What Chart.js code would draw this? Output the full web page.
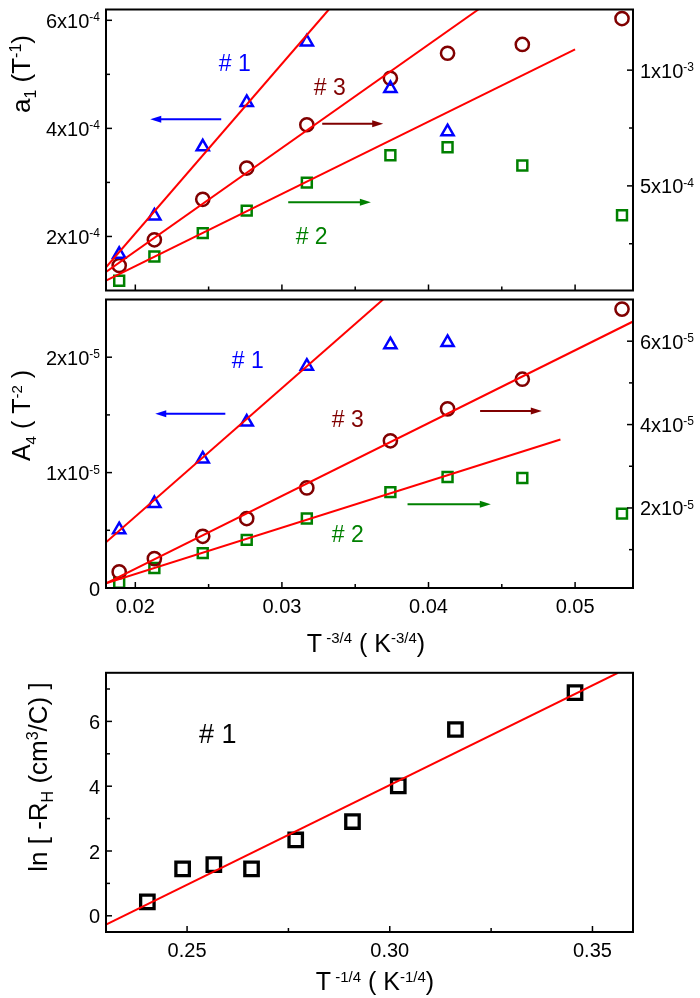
<!DOCTYPE html>
<html>
<head>
<meta charset="utf-8">
<script src="https://cdn.jsdelivr.net/npm/chart.js@4"></script>
<style>
  body { margin: 0; background: #fff; width: 700px; height: 998px; position: relative; overflow: hidden; }
  canvas { position: absolute; left: 0; }
</style>
</head>
<body>
<canvas id="a1Chart" width="700" height="300" style="top:0px"></canvas>
<canvas id="A4Chart" width="700" height="370" style="top:290px"></canvas>
<canvas id="rhChart" width="700" height="338" style="top:660px"></canvas>
<script>
// T^-3/4 values shared by the two upper panels
const T34 = [0.0189, 0.0213, 0.0246, 0.0276, 0.0317, 0.0374, 0.0413, 0.0464, 0.0532];

// a1 : sample #1 on left axis, #2 and #3 on right axis
const a1No1 = [1.67e-4, 2.38e-4, 3.66e-4, 4.48e-4, 5.60e-4, 4.74e-4, 3.94e-4];
const a1No3 = [1.56e-4, 2.67e-4, 4.42e-4, 5.77e-4, 7.64e-4, 9.65e-4, 10.73e-4, 11.11e-4, 12.23e-4];
const a1No2 = [0.90e-4, 1.95e-4, 2.96e-4, 3.93e-4, 5.14e-4, 6.32e-4, 6.67e-4, 5.88e-4, 3.73e-4];
const a1Fit1 = [[0.018, 1.43e-4], [0.0332, 6.2e-4]];
const a1Fit3 = [[0.018, 1.28e-4], [0.0434, 1.262e-3]];
const a1Fit2 = [[0.018, 0.904e-4], [0.0500, 1.09e-3]];

// A4 : sample #1 on left axis, #2 and #3 on right axis
const A4No1 = [5.05e-6, 7.32e-6, 1.118e-5, 1.438e-5, 1.922e-5, 2.108e-5, 2.128e-5];
const A4No3 = [0.466e-5, 0.784e-5, 1.32e-5, 1.746e-5, 2.481e-5, 3.611e-5, 4.377e-5, 5.088e-5, 6.77e-5];
const A4No2 = [0.206e-5, 0.561e-5, 0.917e-5, 1.234e-5, 1.746e-5, 2.379e-5, 2.741e-5, 2.718e-5, 1.865e-5];
const A4Fit1 = [[0.018, 3.96e-6], [0.0369, 2.5e-5]];
const A4Fit3 = [[0.018, 0.191e-5], [0.05395, 6.472e-5]];
const A4Fit2 = [[0.018, 0.19e-5], [0.0490, 3.642e-5]];

// ln(-RH) vs T^-1/4, sample #1
const T14 = [0.2402, 0.2489, 0.2566, 0.2659, 0.2768, 0.2908, 0.3021, 0.3162, 0.3457];
const lnRH = [0.43, 1.45, 1.58, 1.45, 2.34, 2.91, 4.01, 5.75, 6.89];
const lnRHFit = [[0.23, -0.27], [0.3563, 7.5]];

// tick values and labels
const T34Ticks = [0.02, 0.03, 0.04, 0.05];
const T34Labels = ['0.02', '0.03', '0.04', '0.05'];
const T34Minor = [0.025, 0.035, 0.045];
const a1LeftTicks = [2e-4, 4e-4, 6e-4];
const a1LeftLabels = ['2x10^{-4}', '4x10^{-4}', '6x10^{-4}'];
const a1LeftMinor = [3e-4, 5e-4];
const a1RightTicks = [5e-4, 1e-3];
const a1RightLabels = ['5x10^{-4}', '1x10^{-3}'];
const a1RightMinor = [2.5e-4, 7.5e-4];
const A4LeftTicks = [0, 1e-5, 2e-5];
const A4LeftLabels = ['0', '1x10^{-5}', '2x10^{-5}'];
const A4LeftMinor = [0.5e-5, 1.5e-5];
const A4RightTicks = [2e-5, 4e-5, 6e-5];
const A4RightLabels = ['2x10^{-5}', '4x10^{-5}', '6x10^{-5}'];
const A4RightMinor = [1e-5, 3e-5, 5e-5];
const T14Ticks = [0.25, 0.30, 0.35];
const T14Labels = ['0.25', '0.30', '0.35'];
const T14Minor = [0.275, 0.325];
const lnTicks = [0, 2, 4, 6];
const lnLabels = ['0', '2', '4', '6'];
const lnMinor = [1, 3, 5, 7];

const BLUE = '#0000ff', DARKRED = '#800000', GREEN = '#008000', RED = '#ff0000';
const FONT = 'Arial, "Liberation Sans", sans-serif';

// tiny markup: ^{..} superscript, _{..} subscript
function parseRich(str) {
  const out = [];
  const re = /([\^_])\{([^}]*)\}|([^\^_]+)/g;
  let m;
  while ((m = re.exec(str))) {
    if (m[3]) out.push({ t: m[3], k: '' });
    else out.push({ t: m[2], k: m[1] });
  }
  return out;
}

function richText(ctx, str, x, y, size, align, color) {
  const parts = parseRich(str);
  const fontOf = k => (k ? Math.round(size * 0.6) : size) + 'px ' + FONT;
  let w = 0;
  parts.forEach(p => { ctx.font = fontOf(p.k); p.w = ctx.measureText(p.t).width; w += p.w; });
  let cx = align === 'right' ? x - w : align === 'center' ? x - w / 2 : x;
  ctx.fillStyle = color || '#000';
  ctx.textAlign = 'left';
  ctx.textBaseline = 'alphabetic';
  parts.forEach(p => {
    ctx.font = fontOf(p.k);
    const dy = p.k === '^' ? -size * 0.33 : p.k === '_' ? size * 0.22 : 0;
    ctx.fillText(p.t, cx, y + dy);
    cx += p.w;
  });
}

function drawAxis(ctx, chart, ax) {
  const s = chart.scales[ax.scale];
  const a = chart.chartArea;
  ctx.strokeStyle = '#000';
  ctx.lineWidth = 1.5;
  const mark = (v, len) => {
    const p = s.getPixelForValue(v);
    ctx.beginPath();
    if (ax.side === 'left') { ctx.moveTo(a.left, p); ctx.lineTo(a.left + len, p); }
    else if (ax.side === 'right') { ctx.moveTo(a.right, p); ctx.lineTo(a.right - len, p); }
    else { ctx.moveTo(p, a.bottom); ctx.lineTo(p, a.bottom - len); }
    ctx.stroke();
  };
  ax.major.forEach(v => mark(v, 6));
  ax.minor.forEach(v => mark(v, 4));
  if (!ax.labels) return;
  ax.major.forEach((v, i) => {
    const p = s.getPixelForValue(v);
    if (ax.side === 'left') richText(ctx, ax.labels[i], a.left - 6, p + 7.5, 20, 'right');
    else if (ax.side === 'right') richText(ctx, ax.labels[i], a.right + 7, p + 7.5, 20, 'left');
    else richText(ctx, ax.labels[i], p, a.bottom + 24.5, 20, 'center');
  });
}

function drawArrow(ctx, x1, x2, y, color) {
  const dir = Math.sign(x2 - x1);
  ctx.strokeStyle = color;
  ctx.fillStyle = color;
  ctx.lineWidth = 2;
  ctx.beginPath();
  ctx.moveTo(x1, y);
  ctx.lineTo(x2 - dir * 8, y);
  ctx.stroke();
  ctx.beginPath();
  ctx.moveTo(x2, y);
  ctx.lineTo(x2 - dir * 11, y - 3.5);
  ctx.lineTo(x2 - dir * 11, y + 3.5);
  ctx.closePath();
  ctx.fill();
}

// frame, inward ticks, labels, titles and annotations
function decoPlugin(spec) {
  return {
    id: 'deco',
    afterDraw(chart) {
      const ctx = chart.ctx;
      const a = chart.chartArea;
      ctx.save();
      spec.axes.forEach(ax => drawAxis(ctx, chart, ax));
      ctx.strokeStyle = '#000';
      ctx.lineWidth = 2;
      ctx.strokeRect(a.left, a.top, a.right - a.left, a.bottom - a.top);
      const xs = chart.scales.x;
      (spec.notes || []).forEach(n => {
        const ys = chart.scales[n.axis];
        richText(ctx, n.text, xs.getPixelForValue(n.x), ys.getPixelForValue(n.y), n.size, 'center', n.color);
      });
      (spec.arrows || []).forEach(n => {
        const ys = chart.scales[n.axis];
        drawArrow(ctx, xs.getPixelForValue(n.x1), xs.getPixelForValue(n.x2), ys.getPixelForValue(n.y), n.color);
      });
      (spec.titles || []).forEach(t => {
        ctx.save();
        ctx.translate(t.x, t.y);
        if (t.rotate) ctx.rotate(-Math.PI / 2);
        richText(ctx, t.text, 0, 0, t.size, 'center', '#000');
        ctx.restore();
      });
      ctx.restore();
    }
  };
}

function markers(xs, ys, axis, style, color, r, bw) {
  return {
    data: ys.map((y, i) => ({ x: xs[i], y })),
    yAxisID: axis,
    showLine: false,
    pointStyle: style,
    pointRadius: r,
    pointBorderColor: color,
    pointBackgroundColor: 'rgba(0,0,0,0)',
    pointBorderWidth: bw || 2.5,
    clip: false
  };
}

function fitLine(pts, axis) {
  return {
    data: pts.map(p => ({ x: p[0], y: p[1] })),
    yAxisID: axis,
    showLine: true,
    borderColor: RED,
    borderWidth: 2,
    pointRadius: 0
  };
}

function panel(id, padding, scales, datasets, spec) {
  return new Chart(document.getElementById(id), {
    type: 'scatter',
    data: { datasets },
    options: {
      responsive: false,
      animation: false,
      devicePixelRatio: 1,
      events: [],
      layout: { padding },
      plugins: { legend: { display: false }, tooltip: { enabled: false } },
      scales
    },
    plugins: [decoPlugin(spec)]
  });
}

const x34 = { type: 'linear', display: false, min: 0.018, max: 0.05395 };

// top panel: a1
panel('a1Chart', { left: 106, right: 67, top: 4, bottom: 4 }, {
  x: x34,
  yL: { type: 'linear', display: false, position: 'left', min: 1e-4, max: 6.2e-4 },
  yR: { type: 'linear', display: false, position: 'right', min: 4.8e-5, max: 1.262e-3 }
}, [
  fitLine(a1Fit1, 'yL'),
  fitLine(a1Fit3, 'yR'),
  fitLine(a1Fit2, 'yR'),
  markers(T34, a1No1, 'yL', 'triangle', BLUE, 7),
  markers(T34, a1No3, 'yR', 'circle', DARKRED, 6.6),
  markers(T34, a1No2, 'yR', 'rect', GREEN, 7)
], {
  axes: [
    { scale: 'yL', side: 'left', major: a1LeftTicks, minor: a1LeftMinor, labels: a1LeftLabels },
    { scale: 'yR', side: 'right', major: a1RightTicks, minor: a1RightMinor, labels: a1RightLabels },
    { scale: 'x', side: 'bottom', major: T34Ticks, minor: T34Minor }
  ],
  notes: [
    { text: '# 1', x: 0.02678, y: 5.063e-4, axis: 'yL', size: 23, color: BLUE },
    { text: '# 3', x: 0.03326, y: 4.619e-4, axis: 'yL', size: 23, color: DARKRED },
    { text: '# 2', x: 0.03203, y: 1.852e-4, axis: 'yL', size: 23, color: GREEN }
  ],
  arrows: [
    { x1: 0.02586, x2: 0.02102, y: 4.169e-4, axis: 'yL', color: BLUE },
    { x1: 0.03275, x2: 0.03691, y: 4.085e-4, axis: 'yL', color: DARKRED },
    { x1: 0.03043, x2: 0.03607, y: 2.635e-4, axis: 'yL', color: GREEN }
  ],
  titles: [
    { text: 'a_{1} (T^{-1})', x: 30, y: 74, size: 26, rotate: true }
  ]
});

// middle panel: A4
panel('A4Chart', { left: 106, right: 67, top: 6, bottom: 72 }, {
  x: x34,
  yL: { type: 'linear', display: false, position: 'left', min: 0, max: 2.5e-5 },
  yR: { type: 'linear', display: false, position: 'right', min: 0.08e-5, max: 7e-5 }
}, [
  fitLine(A4Fit1, 'yL'),
  fitLine(A4Fit3, 'yR'),
  fitLine(A4Fit2, 'yR'),
  markers(T34, A4No1, 'yL', 'triangle', BLUE, 7),
  markers(T34, A4No3, 'yR', 'circle', DARKRED, 6.6),
  markers(T34, A4No2, 'yR', 'rect', GREEN, 7)
], {
  axes: [
    { scale: 'yL', side: 'left', major: A4LeftTicks, minor: A4LeftMinor, labels: A4LeftLabels },
    { scale: 'yR', side: 'right', major: A4RightTicks, minor: A4RightMinor, labels: A4RightLabels },
    { scale: 'x', side: 'bottom', major: T34Ticks, minor: T34Minor, labels: T34Labels }
  ],
  notes: [
    { text: '# 1', x: 0.02767, y: 1.909e-5, axis: 'yL', size: 23, color: BLUE },
    { text: '# 3', x: 0.03449, y: 1.396e-5, axis: 'yL', size: 23, color: DARKRED },
    { text: '# 2', x: 0.03449, y: 0.396e-5, axis: 'yL', size: 23, color: GREEN }
  ],
  arrows: [
    { x1: 0.02614, x2: 0.02136, y: 1.509e-5, axis: 'yL', color: BLUE },
    { x1: 0.04352, x2: 0.04773, y: 1.533e-5, axis: 'yL', color: DARKRED },
    { x1: 0.03857, x2: 0.04425, y: 0.725e-5, axis: 'yL', color: GREEN }
  ],
  titles: [
    { text: 'A_{4} ( T^{-2} )', x: 30, y: 125.5, size: 25, rotate: true },
    { text: 'T^{ -3/4} ( K^{-3/4})', x: 366, y: 361.7, size: 25 }
  ]
});

// bottom panel: ln(-RH)
panel('rhChart', { left: 106, right: 67, top: 8, bottom: 66 }, {
  x: { type: 'linear', display: false, min: 0.23, max: 0.36 },
  y: { type: 'linear', display: false, position: 'left', min: -0.5, max: 7.5 }
}, [
  fitLine(lnRHFit, 'y'),
  markers(T14, lnRH, 'y', 'rect', '#000', 9.5, 3.3)
], {
  axes: [
    { scale: 'y', side: 'left', major: lnTicks, minor: lnMinor, labels: lnLabels },
    { scale: 'x', side: 'bottom', major: T14Ticks, minor: T14Minor, labels: T14Labels }
  ],
  notes: [
    { text: '# 1', x: 0.25757, y: 5.34, axis: 'y', size: 27, color: '#000' }
  ],
  titles: [
    { text: 'ln [ -R_{H} (cm^{3}/C) ]', x: 47, y: 117, size: 26, rotate: true },
    { text: 'T^{ -1/4} ( K^{-1/4})', x: 375, y: 330, size: 25 }
  ]
});
</script>
</body>
</html>
